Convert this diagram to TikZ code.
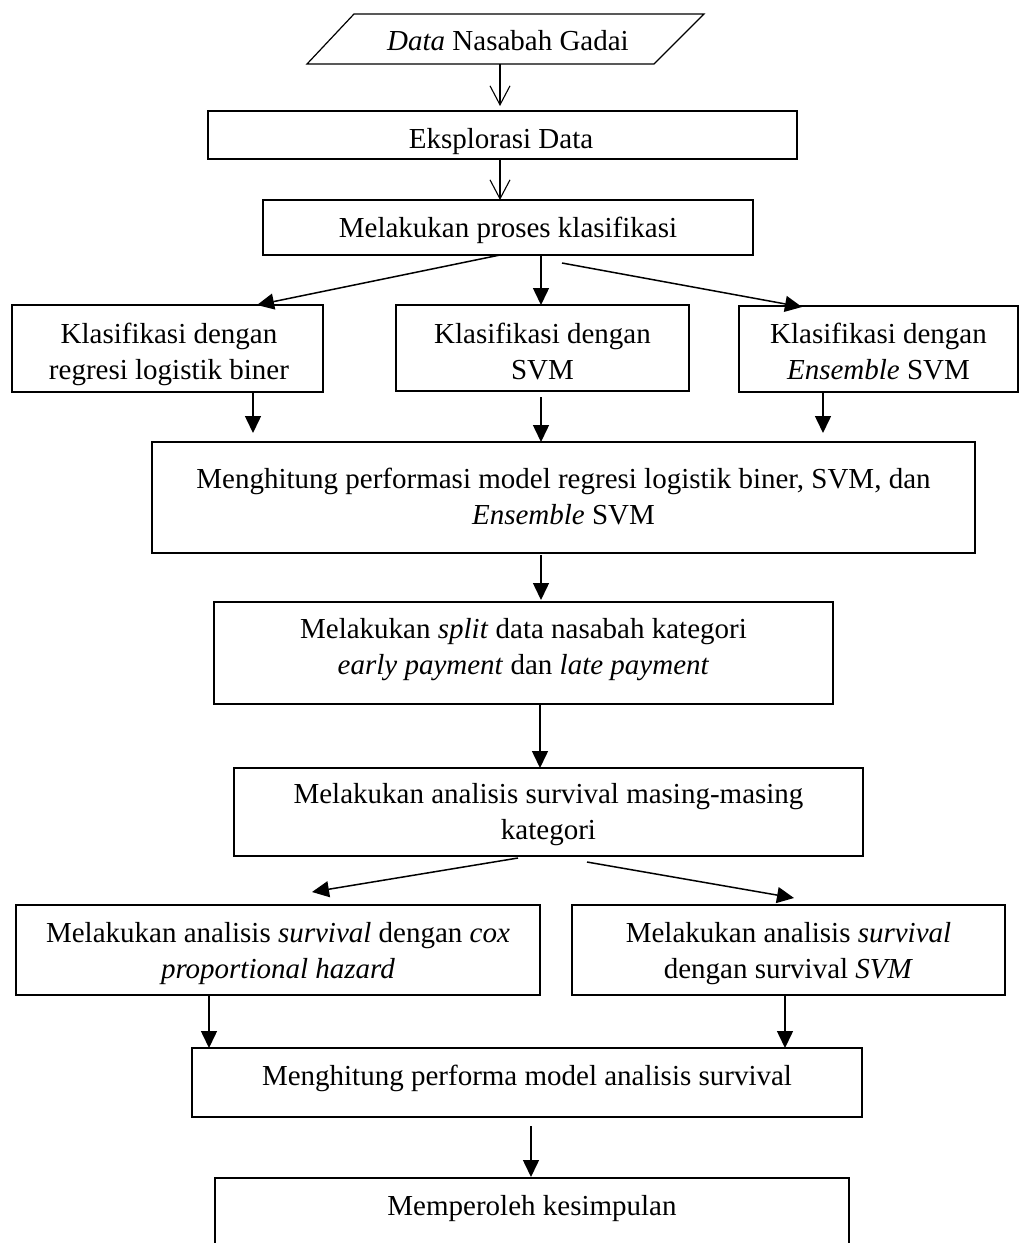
\documentclass[tikz,border=0pt]{standalone}
\usepackage{fontspec}
\setmainfont{Liberation Serif}
\usetikzlibrary{arrows.meta,calc}
\tikzset{
  box/.style={draw=black, line width=1.2pt, rectangle, inner sep=0pt, outer sep=0pt},
  paraline/.style={draw=black, line width=1.2pt, line join=miter},
  txt/.style={inner sep=0pt, outer sep=0pt, align=center, anchor=north,
    font=\fontsize{29}{36.5}\selectfont},
  openarr/.style={line width=1.1pt, -{Straight Barb[length=19pt,width=20pt,line width=1.1pt]}},
  fillarr/.style={line width=1.5pt, -{Triangle[length=17pt,width=16pt]}}
}
\newcommand\bx[5]{\node[box, minimum width=#4, minimum height=#5] (#1) at (#2,#3) {};}
\newcommand\tx[4]{\node[txt] (#1) at (#2,{#3-25.55}) {\strut #4};}
\begin{document}
\begin{tikzpicture}[x=1pt,y=-1pt]
\useasboundingbox (0,0) rectangle (1022,1243);
\begin{scope}
\clip (0,0) rectangle (1022,1243);
\draw[paraline] (354,14) -- (704,14) -- (654,64) -- (307,64) -- cycle;
\coordinate (inb) at (500,64);
\tx{int}{508}{50}{\textit{Data} Nasabah Gadai}
\bx{e1}{502.5}{135}{589}{48}
\tx{e1t}{501}{148}{Eksplorasi Data}
\bx{c1}{508}{227.5}{490}{55}
\tx{c1t}{508}{237}{Melakukan proses klasifikasi}
\bx{k1}{167.5}{348.5}{311}{87}
\tx{k1t}{169}{343}{Klasifikasi dengan\\regresi logistik biner}
\bx{k2}{542.5}{348}{293}{86}
\tx{k2t}{542.5}{343}{Klasifikasi dengan\\SVM}
\bx{k3}{878.5}{349}{279}{86}
\tx{k3t}{878.5}{343}{Klasifikasi dengan\\\textit{Ensemble} SVM}
\bx{m1}{563.5}{497.5}{823}{111}
\tx{m1t}{563.5}{488}{Menghitung performasi model regresi logistik biner, SVM, dan\\\textit{Ensemble} SVM}
\bx{s1}{523.5}{653}{619}{102}
\tx{s1t}{523.5}{638}{Melakukan \textit{split} data nasabah kategori\\\textit{early payment} dan \textit{late payment}}
\bx{a1}{548.5}{812}{629}{88}
\tx{a1t}{548.5}{803}{Melakukan analisis survival masing-masing\\kategori}
\bx{v1}{278}{950}{524}{90}
\tx{v1t}{278}{942}{Melakukan analisis \textit{survival} dengan \textit{cox}\\\textit{proportional hazard}}
\bx{v2}{788.5}{950}{433}{90}
\tx{v2t}{788.5}{942}{Melakukan analisis \textit{survival}\\dengan survival \textit{SVM}}
\bx{p1}{527}{1082.5}{670}{69}
\tx{p1t}{527}{1085}{Menghitung performa model analisis survival}
\bx{f1}{532}{1224}{634}{92}
\tx{f1t}{532}{1215}{Memperoleh kesimpulan}
\draw[openarr] (inb) -- ($(e1.north)+(-2.5,-5)$);
\draw[openarr] ($(e1.south)+(-2.5,0)$) -- ($(c1.north)+(-8,0)$);
\draw[fillarr] ($(c1.south)+(-8,0)$) -- ($(k1.north)+(89.5,0)$);
\draw[fillarr] ($(c1.south)+(33,1)$) -- ($(k2.north)+(-1.5,0)$);
\draw[fillarr] ($(c1.south)+(54,8)$) -- ($(k3.north)+(-76.5,1)$);
\draw[fillarr] ($(k1.south)+(85.5,0)$) -- ($(m1.north)+(-310.5,-9)$);
\draw[fillarr] ($(k2.south)+(-1.5,6)$) -- ($(m1.north)+(-22.5,0)$);
\draw[fillarr] ($(k3.south)+(-55.5,0)$) -- ($(m1.north)+(259.5,-9)$);
\draw[fillarr] ($(m1.south)+(-22.5,2)$) -- ($(s1.north)+(17.5,-2)$);
\draw[fillarr] ($(s1.south)+(16.5,0)$) -- ($(a1.north)+(-8.5,0)$);
\draw[fillarr] ($(a1.south)+(-30.5,2)$) -- ($(v1.north)+(34,-13)$);
\draw[fillarr] ($(a1.south)+(38.5,6)$) -- ($(v2.north)+(5.5,-7)$);
\draw[fillarr] ($(v1.south)+(-69,0)$) -- ($(p1.north)+(-318,0)$);
\draw[fillarr] ($(v2.south)+(-3.5,0)$) -- ($(p1.north)+(258,0)$);
\draw[fillarr] ($(p1.south)+(4,9)$) -- ($(f1.north)+(-1,-1)$);
\end{scope}
\end{tikzpicture}
\end{document}
